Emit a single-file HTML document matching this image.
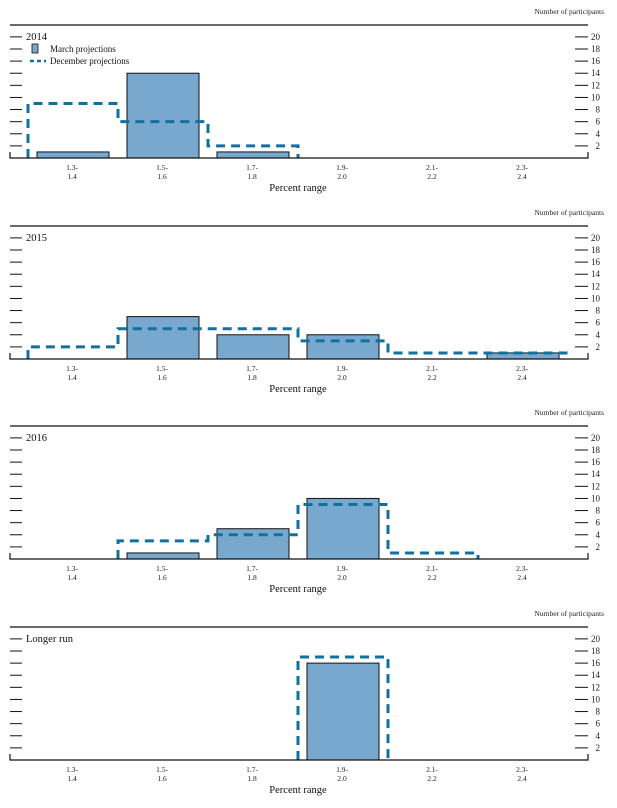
<!DOCTYPE html>
<html><head><meta charset="utf-8"><style>
body{margin:0;background:#fff;}
svg{display:block;font-family:"Liberation Serif",serif;}
</style></head><body>
<svg id="c" width="617" height="808" viewBox="0 0 617 808"></svg>
<script>
const categories = [["1.3-","1.4"],["1.5-","1.6"],["1.7-","1.8"],["1.9-","2.0"],["2.1-","2.2"],["2.3-","2.4"]];
const panelTitles = ["2014","2015","2016","Longer run"];
const marchValues = [[1,14,1,0,0,0],[0,7,4,4,0,1],[0,1,5,10,0,0],[0,0,0,16,0,0]];
const decemberValues = [[9,6,2,0,0,0],[2,5,5,3,1,1],[0,3,4,9,1,0],[0,0,0,17,0,0]];
const yTicks = [2,4,6,8,10,12,14,16,18,20];

const NS="http://www.w3.org/2000/svg";
const svg=document.getElementById('c');
function mk(tag,attrs,parent,text){const e=document.createElementNS(NS,tag);for(const k in attrs)e.setAttribute(k,attrs[k]);if(text!==undefined)e.textContent=text;(parent||svg).appendChild(e);return e;}
const tops=[25,226,426,627];
const cellW=90, x0=28, L=10, R=588;
function xEdge(i){return x0+i*cellW;}
function xCenter(i){return x0+i*cellW+cellW/2;}

tops.forEach((top,p)=>{
  const base=top+133;
  const unit=(base-12-(top+12))/18;
  const y=v=>base-v*unit;
  const g=mk('g',{});
  
  
  const ut=mk('text',{x:604,y:top-11,'font-size':7.5,'text-anchor':'end',fill:'#222'},g,'Number of participants');
  
  const tl=mk('line',{x1:L,y1:top,x2:R,y2:top,stroke:'#111','stroke-width':1.2},g);
  
  yTicks.forEach(t=>{
    const yy=y(t);
    const a=mk('line',{x1:L,y1:yy,x2:L+12,y2:yy,stroke:'#111','stroke-width':1},g);
    
    const b=mk('line',{x1:R-13,y1:yy,x2:R,y2:yy,stroke:'#111','stroke-width':1},g);
    
    const lb=mk('text',{x:600,y:yy+3,'font-size':9,'text-anchor':'end',fill:'#222'},g,String(t));
    
  });
  // bars
  marchValues[p].forEach((v,i)=>{
    if(v<=0)return;
    const r=mk('rect',{x:xEdge(i)+9,y:y(v),width:72,height:base-y(v),fill:'#79a8cf',stroke:'#111','stroke-width':1},g);
    
  });
  // dashed step line
  const d=decemberValues[p];
  let first=d.findIndex(v=>v>0), last=d.length-1-[...d].reverse().findIndex(v=>v>0);
  let pts=[[xEdge(first),base]];
  for(let i=first;i<=last;i++){pts.push([xEdge(i),y(d[i])]);pts.push([xEdge(i+1),y(d[i])]);}
  pts.push([xEdge(last+1),base]);
  const pl=mk('polyline',{points:pts.map(q=>q.join(',')).join(' '),fill:'none',stroke:'#11709f','stroke-width':3,'stroke-dasharray':'9,6'},g);
  
  // baseline
  const bl=mk('path',{d:`M${L},${base-6}V${base}H${R}V${base-6}`,fill:'none',stroke:'#111','stroke-width':1.2},g);
  
  categories.forEach((c,i)=>{
    const t1=mk('text',{x:xCenter(i)-1,y:base+12,'font-size':7.5,'text-anchor':'middle',fill:'#222'},g,c[0]);
    
    const t2=mk('text',{x:xCenter(i)-1,y:base+21,'font-size':7.5,'text-anchor':'middle',fill:'#222'},g,c[1]);
    
  });
  const xt=mk('text',{x:298,y:base+33,'font-size':10.5,'text-anchor':'middle',fill:'#111'},g,'Percent range');
  
  const tt=mk('text',{x:26,y:top+15,'font-size':10.5,fill:'#111'},g,panelTitles[p]);
  
  if(p===0){
    const ls=mk('rect',{x:32,y:top+19,width:6,height:9,fill:'#79a8cf',stroke:'#111','stroke-width':0.8},g);
    
    const lt=mk('text',{x:50,y:top+27,'font-size':9,fill:'#111'},g,'March projections');
    
    const ld=mk('line',{x1:30,y1:top+36,x2:46,y2:top+36,stroke:'#11709f','stroke-width':2.5,'stroke-dasharray':'4,3'},g);
    
    const lt2=mk('text',{x:50,y:top+39,'font-size':9,fill:'#111'},g,'December projections');
    
  }
});
</script>
</body></html>
